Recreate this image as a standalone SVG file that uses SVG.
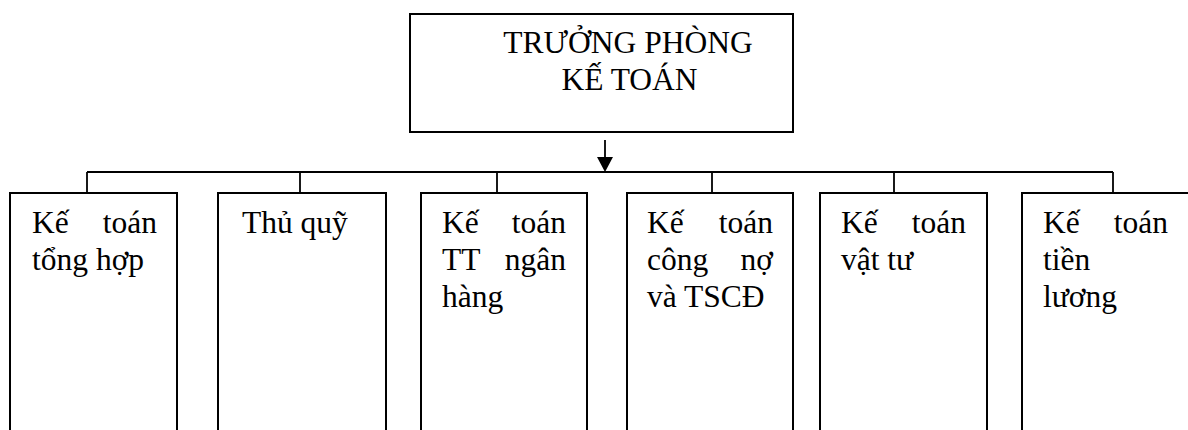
<svg xmlns="http://www.w3.org/2000/svg" width="1188" height="430" viewBox="0 0 1188 430">
  <defs>
    <style>
      .box { fill: #ffffff; stroke: #000000; stroke-width: 2; }
      .wire { fill: none; stroke: #000000; stroke-width: 1.8; }
      .label { font-family: "Liberation Serif", "Times New Roman", serif; font-size: 31.5px; fill: #000000; }
      .end { text-anchor: end; }
      .mid { text-anchor: middle; }
    </style>
  </defs>
  <rect width="1188" height="430" fill="#ffffff"/>

  <!-- head of department -->
  <g id="node-truong-phong">
    <rect class="box" x="410" y="14" width="383" height="118"/>
    <text class="label mid" x="628" y="53">TRƯỞNG PHÒNG</text>
    <text class="label mid" x="629.5" y="90">KẾ TOÁN</text>
  </g>

  <!-- connectors: down arrow, bus line, drops to each box -->
  <g id="connectors">
    <line class="wire" x1="605" y1="140" x2="605" y2="158"/>
    <path d="M597,157 L613,157 L605,172 Z" fill="#000000"/>
    <line class="wire" x1="87" y1="172" x2="1113" y2="172"/>
    <line class="wire" x1="87" y1="172" x2="87" y2="193"/>
    <line class="wire" x1="300" y1="172" x2="300" y2="193"/>
    <line class="wire" x1="497" y1="172" x2="497" y2="193"/>
    <line class="wire" x1="712" y1="172" x2="712" y2="193"/>
    <line class="wire" x1="894" y1="172" x2="894" y2="193"/>
    <line class="wire" x1="1113" y1="172" x2="1113" y2="193"/>
  </g>

  <g id="node-tong-hop">
    <rect class="box" x="10" y="193" width="167" height="260"/>
    <text class="label" x="32" y="233">Kế</text>
    <text class="label end" x="157" y="233">toán</text>
    <text class="label" x="32" y="270">tổng hợp</text>
  </g>

  <g id="node-thu-quy">
    <rect class="box" x="218" y="193" width="168" height="260"/>
    <text class="label" x="242" y="233">Thủ quỹ</text>
  </g>

  <g id="node-ngan-hang">
    <rect class="box" x="421" y="193" width="166" height="260"/>
    <text class="label" x="442" y="233">Kế</text>
    <text class="label end" x="566" y="233">toán</text>
    <text class="label" x="442" y="270">TT</text>
    <text class="label end" x="566" y="270">ngân</text>
    <text class="label" x="442" y="307">hàng</text>
  </g>

  <g id="node-cong-no">
    <rect class="box" x="627" y="193" width="166" height="260"/>
    <text class="label" x="647" y="233">Kế</text>
    <text class="label end" x="773" y="233">toán</text>
    <text class="label" x="647" y="270">công</text>
    <text class="label end" x="773" y="270">nợ</text>
    <text class="label" x="647" y="307">và TSCĐ</text>
  </g>

  <g id="node-vat-tu">
    <rect class="box" x="820" y="193" width="167" height="260"/>
    <text class="label" x="841" y="233">Kế</text>
    <text class="label end" x="966" y="233">toán</text>
    <text class="label" x="841" y="270">vật tư</text>
  </g>

  <g id="node-tien-luong">
    <rect class="box" x="1022" y="193" width="168" height="260"/>
    <text class="label" x="1043" y="233">Kế</text>
    <text class="label end" x="1168" y="233">toán</text>
    <text class="label" x="1043" y="270">tiền</text>
    <text class="label" x="1043" y="307">lương</text>
  </g>
</svg>
